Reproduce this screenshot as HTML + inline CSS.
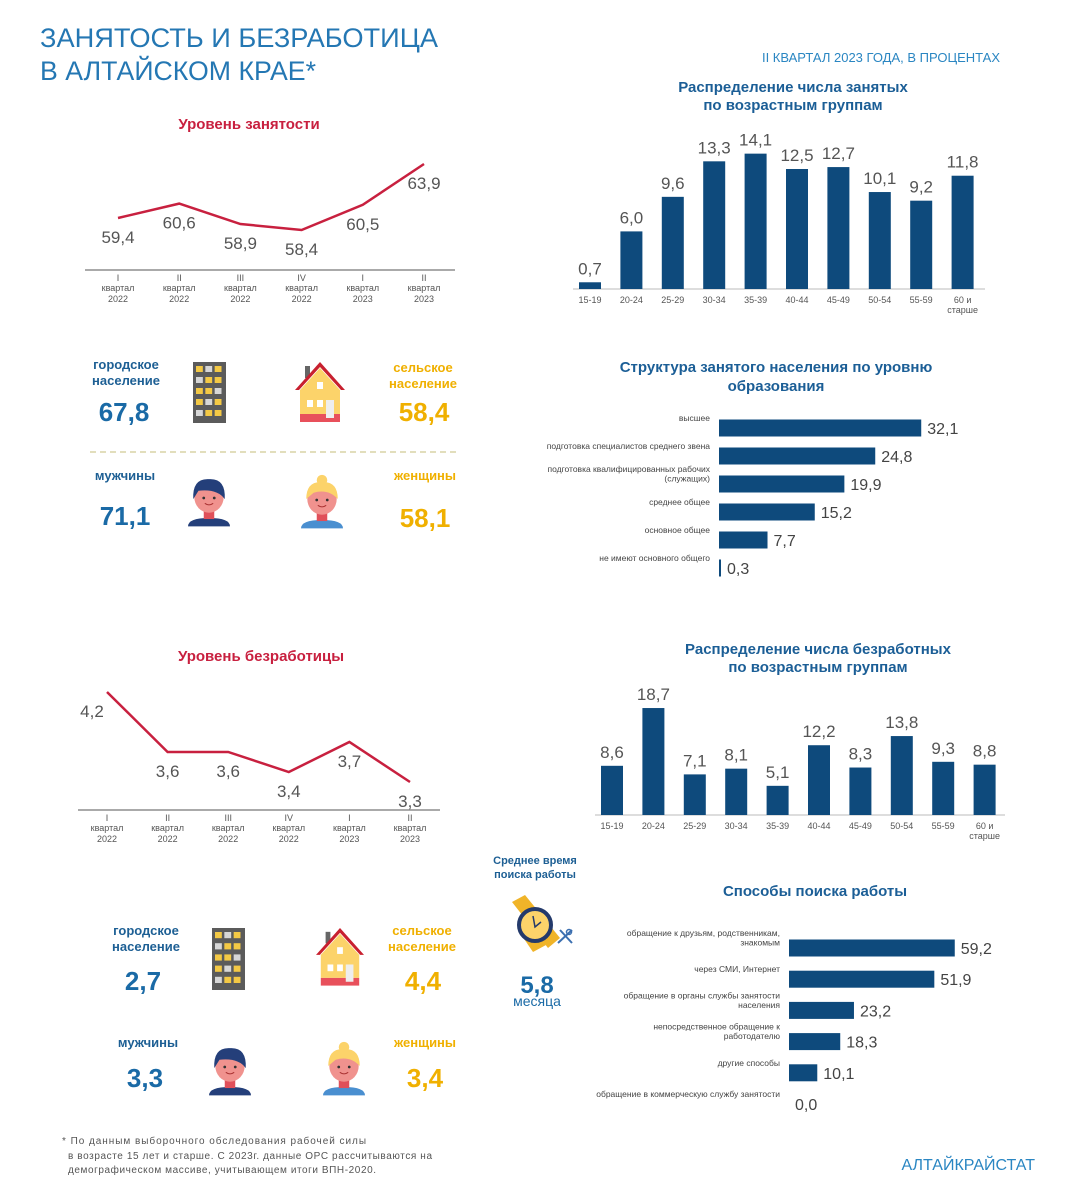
<!DOCTYPE html>
<html><head><meta charset="utf-8">
<style>
html,body{margin:0;padding:0;background:#fff;}
svg{display:block;font-family:"Liberation Sans",sans-serif;}
.t{font-weight:bold;fill:#1b5e96;font-size:15px;text-anchor:middle}
.r{font-weight:bold;fill:#c8203f;font-size:15px;text-anchor:middle}
.tick{font-size:9px;fill:#555;text-anchor:middle}
.val{font-size:17px;fill:#555;text-anchor:middle}
.cat{font-size:8.5px;fill:#444;text-anchor:end}
.bv{font-size:16px;fill:#444}
.bl{font-weight:bold;fill:#1d5f94;font-size:13px;text-anchor:middle}
.yl{font-weight:bold;fill:#f0b000;font-size:13px;text-anchor:middle}
.bn{font-weight:bold;fill:#1a6aa6;font-size:26px;text-anchor:middle}
.yn{font-weight:bold;fill:#f0b000;font-size:26px;text-anchor:middle}
</style></head>
<body>
<svg id="s" width="1066" height="1200" viewBox="0 0 1066 1200">
<text x="40" y="47" font-size="27" fill="#2477b3" textLength="398" lengthAdjust="spacingAndGlyphs">ЗАНЯТОСТЬ И БЕЗРАБОТИЦА</text>
<text x="40" y="80" font-size="27" fill="#2477b3" textLength="276" lengthAdjust="spacingAndGlyphs">В АЛТАЙСКОМ КРАЕ*</text>
<text x="1000" y="62" font-size="13" fill="#2a86c2" text-anchor="end">II КВАРТАЛ 2023 ГОДА, В ПРОЦЕНТАХ</text>

<text class="r" x="249" y="129">Уровень занятости</text>
<text class="t" x="793" y="92">Распределение числа занятых</text>
<text class="t" x="793" y="110">по возрастным группам</text>
<text class="t" x="776" y="372">Структура занятого населения по уровню</text>
<text class="t" x="776" y="391">образования</text>
<text class="r" x="261" y="661">Уровень безработицы</text>
<text class="t" x="818" y="654">Распределение числа безработных</text>
<text class="t" x="818" y="672">по возрастным группам</text>
<text class="t" x="815" y="896">Способы поиска работы</text>

<!-- top stats -->
<text class="bl" x="126" y="369">городское</text>
<text class="bl" x="126" y="385">население</text>
<text class="bn" x="124" y="421">67,8</text>
<text class="yl" x="423" y="372">сельское</text>
<text class="yl" x="423" y="388">население</text>
<text class="yn" x="424" y="421">58,4</text>
<line x1="90" y1="452" x2="460" y2="452" stroke="#d9d3a6" stroke-width="1.5" stroke-dasharray="6,4"/>
<text class="bl" x="125" y="480">мужчины</text>
<text class="bn" x="125" y="525">71,1</text>
<text class="yl" x="425" y="480">женщины</text>
<text class="yn" x="425" y="527">58,1</text>

<!-- bottom stats -->
<text class="bl" x="146" y="935">городское</text>
<text class="bl" x="146" y="951">население</text>
<text class="bn" x="143" y="990">2,7</text>
<text class="yl" x="422" y="935">сельское</text>
<text class="yl" x="422" y="951">население</text>
<text class="yn" x="423" y="990">4,4</text>
<text class="bl" x="148" y="1047">мужчины</text>
<text class="bn" x="145" y="1087">3,3</text>
<text class="yl" x="425" y="1047">женщины</text>
<text class="yn" x="425" y="1087">3,4</text>

<text x="535" y="864" font-size="11" font-weight="bold" fill="#1d5f94" text-anchor="middle">Среднее время</text>
<text x="535" y="878" font-size="11" font-weight="bold" fill="#1d5f94" text-anchor="middle">поиска работы</text>
<g>
<polygon points="512,902 525,895 560,938 548,948" fill="#f0b429"/>
<polygon points="518,930 530,922 546,945 533,952" fill="#f0b429"/>
<circle cx="535" cy="925" r="16" fill="#fcd36a" stroke="#243a6b" stroke-width="4"/>
<polyline points="533,916 535,927 541,922" fill="none" stroke="#243a6b" stroke-width="1.5"/>
<path d="M558,943 L572,930 M560,930 L572,943" stroke="#3b6fb0" stroke-width="2"/>
<circle cx="569" cy="932" r="2.5" fill="none" stroke="#3b6fb0" stroke-width="1.5"/>
</g>
<text x="537" y="993" font-size="24" font-weight="bold" fill="#1a6aa6" text-anchor="middle">5,8</text>
<text x="537" y="1006" font-size="14" fill="#1a6aa6" text-anchor="middle">месяца</text>

<text x="62" y="1144" font-size="10" fill="#555" textLength="304" lengthAdjust="spacing">* По данным выборочного обследования рабочей силы</text>
<text x="68" y="1159" font-size="10" fill="#555" textLength="364" lengthAdjust="spacing">в возрасте 15 лет и старше. С 2023г. данные ОРС рассчитываются на</text>
<text x="68" y="1173" font-size="10" fill="#555" textLength="308" lengthAdjust="spacing">демографическом массиве, учитывающем итоги ВПН-2020.</text>
<text x="1035" y="1170" font-size="16" fill="#2a86c2" text-anchor="end">АЛТАЙКРАЙСТАТ</text>
<g id="icons"></g>
<g id="charts"></g>
</svg>
<script>
// ---- data ----
const quarterRoman = ["I","II","III","IV","I","II"];
const quarterYears = ["2022","2022","2022","2022","2023","2023"];
const employmentRate = [59.4,60.6,58.9,58.4,60.5,63.9];
const employmentLabels = ["59,4","60,6","58,9","58,4","60,5","63,9"];
const unemploymentRate = [4.2,3.6,3.6,3.4,3.7,3.3];
const unemploymentLabels = ["4,2","3,6","3,6","3,4","3,7","3,3"];
const ageGroups = ["15-19","20-24","25-29","30-34","35-39","40-44","45-49","50-54","55-59","60 и"];
const employedByAge = [0.7,6.0,9.6,13.3,14.1,12.5,12.7,10.1,9.2,11.8];
const unemployedByAge = [8.6,18.7,7.1,8.1,5.1,12.2,8.3,13.8,9.3,8.8];
const educationCats = [["высшее"],["подготовка специалистов среднего звена"],["подготовка квалифицированных рабочих","(служащих)"],["среднее общее"],["основное общее"],["не имеют основного общего"]];
const educationShare = [32.1,24.8,19.9,15.2,7.7,0.3];
const searchCats = [["обращение к друзьям, родственникам,","знакомым"],["через СМИ, Интернет"],["обращение в органы службы занятости","населения"],["непосредственное обращение к","работодателю"],["другие способы"],["обращение в коммерческую службу занятости"]];
const searchShare = [59.2,51.9,23.2,18.3,10.1,0.0];

const NS="http://www.w3.org/2000/svg";
const root=document.getElementById('charts');
function mk(tag,attrs,parent,txt){const e=document.createElementNS(NS,tag);for(const k in attrs)e.setAttribute(k,attrs[k]);if(txt!==undefined)e.textContent=txt;(parent||root).appendChild(e);return e;}
const fmt=v=>v.toFixed(1).replace('.',',');

function lineChart(vals,labels,x0,dx,yFn,axisY,ax1,ax2,name,firstShift){
  const g=mk('g',{});
  
  
  const ax=mk('line',{x1:ax1,y1:axisY,x2:ax2,y2:axisY,stroke:'#555','stroke-width':1},g);
  
  
  const pts=vals.map((v,i)=>[x0+i*dx,yFn(v)]);
  const pl=mk('polyline',{points:pts.map(p=>p.join(',')).join(' '),fill:'none',stroke:'#c8203f','stroke-width':2.5},g);
  
  
  vals.forEach((v,i)=>{
    const lx=pts[i][0]-(i===0?firstShift:0);
    const t=mk('text',{class:'val',x:lx,y:pts[i][1]+25},g,labels[i]);
    
    
    const a=mk('text',{class:'tick',x:pts[i][0],y:axisY+11},g,quarterRoman[i]);
    
    
    const b=mk('text',{class:'tick',x:pts[i][0],y:axisY+21},g,'квартал');
    
    
    const c=mk('text',{class:'tick',x:pts[i][0],y:axisY+32},g,quarterYears[i]);
    
    
  });
}
lineChart(employmentRate,employmentLabels,118,61.2,v=>230-(v-58.4)*12,270,85,455,'employment-chart',0);
lineChart(unemploymentRate,unemploymentLabels,107,60.6,v=>782-(v-3.3)*100,810,78,440,'unemployment-chart',15);

function vBars(vals,x0,dx,base,k,ax1,ax2,name){
  const g=mk('g',{});
  
  
  const ax=mk('line',{x1:ax1,y1:base,x2:ax2,y2:base,stroke:'#bbb','stroke-width':1},g);
  
  
  vals.forEach((v,i)=>{
    const cx=x0+i*dx,h=v*k;
    const r=mk('rect',{x:cx-11,y:base-h,width:22,height:h,fill:'#0e4a7c'},g);
    
    
    const t=mk('text',{class:'val',x:cx,y:base-h-8,'font-size':16},g,fmt(v));
    
    
    const c=mk('text',{class:'tick','font-size':8.5,x:cx,y:base+14},g,ageGroups[i]);
    
    
    if(i===ageGroups.length-1){
      const c2=mk('text',{class:'tick','font-size':8.5,x:cx,y:base+24},g,'старше');
      
      
    }
  });
}
vBars(employedByAge,590,41.4,289,9.6,573,985,'employed-age-chart');
vBars(unemployedByAge,612,41.4,815,5.72,595,1005,'unemployed-age-chart');

function hBars(cats,vals,x0,y0,dy,k,name){
  const g=mk('g',{});
  
  
  vals.forEach((v,i)=>{
    const cy=y0+i*dy,w=Math.max(v*k,v>0?2:0);
    const r=mk('rect',{x:x0,y:cy-8.5,width:w,height:17,fill:'#0e4a7c'},g);
    
    
    const t=mk('text',{class:'bv',x:x0+w+6,y:cy+6},g,fmt(v));
    
    
    const lines=cats[i];
    lines.forEach((s,j)=>{
      const yy=lines.length>1?cy-12+j*9.5:cy-7;
      const c=mk('text',{class:'cat',x:x0-9,y:yy},g,s);
      
      
    });
  });
}
hBars(educationCats,educationShare,719,428,28,6.3,'education-chart');
hBars(searchCats,searchShare,789,948,31.2,2.8,'job-search-chart');

// ---- icons ----
const ic=document.getElementById('icons');
function building(x,y,w,h,name){
  const g=mk('g',{},ic);
  
  
  mk('rect',{x:x,y:y,width:w,height:h,fill:'#5b5b5b'},g);
  const cw=(w-8)/3;
  for(let r=0;r<5;r++)for(let c=0;c<3;c++){
    mk('rect',{x:x+3+c*(cw+1),y:y+4+r*(h-6)/5,width:cw-1.5,height:(h-6)/5-5,fill:(r+c)%3===1?'#d7d7d7':'#f4c945'},g);
  }
}
function house(x,y,s,name){
  const g=mk('g',{},ic);
  
  
  mk('rect',{x:x+10*s,y:y+4*s,width:5*s,height:12*s,fill:'#666'},g);
  mk('polygon',{points:`${x},${y+28*s} ${x+25*s},${y} ${x+50*s},${y+28*s} ${x+46*s},${y+28*s} ${x+25*s},${y+5*s} ${x+4*s},${y+28*s}`,fill:'#c8202f'},g);
  mk('polygon',{points:`${x+5*s},${y+28*s} ${x+25*s},${y+6*s} ${x+45*s},${y+28*s} ${x+45*s},${y+52*s} ${x+5*s},${y+52*s}`,fill:'#fcd36a'},g);
  mk('rect',{x:x+5*s,y:y+52*s,width:40*s,height:8*s,fill:'#e8505b'},g);
  mk('rect',{x:x+31*s,y:y+38*s,width:8*s,height:18*s,fill:'#eee'},g);
  [[22,20],[12,38],[22,38]].forEach(p=>mk('rect',{x:x+p[0]*s,y:y+p[1]*s,width:6*s,height:7*s,fill:'#fff'},g));
}
function person(x,y,s,female,name){
  const g=mk('g',{},ic);
  
  
  mk('path',{d:`M${x-20*s},${y+28*s} Q${x-20*s},${y+20*s} ${x},${y+20*s} Q${x+20*s},${y+20*s} ${x+20*s},${y+28*s} Z`,fill:female?'#4a8fd0':'#243f7a'},g);
  mk('rect',{x:x-5*s,y:y+12*s,width:10*s,height:9*s,fill:'#e0505a'},g);
  mk('ellipse',{cx:x,cy:y,rx:14*s,ry:15*s,fill:'#f0928e'},g);
  if(female){mk('path',{d:`M${x-15*s},${y} Q${x-15*s},${y-17*s} ${x},${y-16*s} Q${x+15*s},${y-17*s} ${x+15*s},${y} Q${x+6*s},${y-10*s} ${x-8*s},${y-6*s} Z`,fill:'#fcd36a'},g);
    mk('circle',{cx:x,cy:y-18*s,r:5*s,fill:'#fcd36a'},g);}
  else mk('path',{d:`M${x-15*s},${y+2*s} Q${x-16*s},${y-18*s} ${x},${y-17*s} Q${x+16*s},${y-18*s} ${x+15*s},${y+2*s} Q${x+8*s},${y-8*s} ${x-10*s},${y-6*s} Z`,fill:'#243f7a'},g);
  mk('circle',{cx:x-5*s,cy:y+1*s,r:1.3*s,fill:'#333'},g);
  mk('circle',{cx:x+5*s,cy:y+1*s,r:1.3*s,fill:'#333'},g);
  mk('path',{d:`M${x-4*s},${y+6*s} Q${x},${y+9*s} ${x+4*s},${y+6*s}`,fill:'none',stroke:'#a33',"stroke-width":1},g);
}
building(193,362,33,61,'building-icon');
house(295,362,1,'house-icon');
person(209,497,1.05,false,'man-icon');
person(322,499,1.05,true,'woman-icon');
building(212,928,33,62,'building-icon-b');
house(316,928,0.96,'house-icon-b');
person(230,1066,1.05,false,'man-icon-b');
person(344,1066,1.05,true,'woman-icon-b');
</script>
</body></html>
